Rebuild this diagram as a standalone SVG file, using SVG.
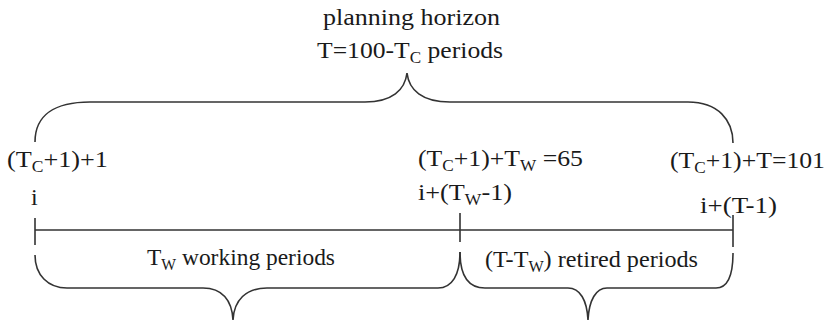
<svg xmlns="http://www.w3.org/2000/svg" width="828" height="320" viewBox="0 0 828 320">
<style>
.ln{fill:none;stroke:#333;stroke-width:1.6;stroke-linecap:butt}
.t{font-family:"Liberation Serif","Times New Roman",serif;font-size:24px;fill:#1a1a1a}
.s{font-size:16px}
</style>
<rect width="828" height="320" fill="#fff"/>
<g id="labels">
<text class="t" x="323" y="25" textLength="177" lengthAdjust="spacingAndGlyphs">planning horizon</text>
<text class="t" x="317" y="58" textLength="186" lengthAdjust="spacingAndGlyphs">T=100-T<tspan class="s" dy="5">C</tspan><tspan dy="-5"> periods</tspan></text>
<text class="t" x="7" y="167" textLength="101" lengthAdjust="spacingAndGlyphs">(T<tspan class="s" dy="5">C</tspan><tspan dy="-5">+1)+1</tspan></text>
<text class="t" x="31" y="205">i</text>
<text class="t" x="418" y="166" textLength="165" lengthAdjust="spacingAndGlyphs">(T<tspan class="s" dy="5">C</tspan><tspan dy="-5">+1)+T</tspan><tspan class="s" dy="5">W</tspan><tspan dy="-5"> =65</tspan></text>
<text class="t" x="418" y="200" textLength="94" lengthAdjust="spacingAndGlyphs">i+(T<tspan class="s" dy="5">W</tspan><tspan dy="-5">-1)</tspan></text>
<text class="t" x="670" y="168" textLength="155" lengthAdjust="spacingAndGlyphs">(T<tspan class="s" dy="5">C</tspan><tspan dy="-5">+1)+T=101</tspan></text>
<text class="t" x="700" y="213" textLength="77" lengthAdjust="spacingAndGlyphs">i+(T-1)</text>
<text class="t" x="147" y="265" textLength="188" lengthAdjust="spacingAndGlyphs">T<tspan class="s" dy="5">W</tspan><tspan dy="-5"> working periods</tspan></text>
<text class="t" x="485" y="267" textLength="213" lengthAdjust="spacingAndGlyphs">(T-T<tspan class="s" dy="5">W</tspan><tspan dy="-5">) retired periods</tspan></text>
</g>
<g id="connectors">
<path id="brace-top" class="ln" d="M35,142 C35,115 55,102 90,102 L365,102 C392,102 405,90 407,73 C409,90 422,102 450,102 L688,102 C718,102 733,120 733,143"/>
<path id="timeline" class="ln" d="M35,230 L733,230 M35,218 L35,245 M460,213 L460,242 M733,215 L733,247"/>
<path id="brace-working" class="ln" d="M35,255 C35,275 48,288 67,288 L203,288 C222,288 232,300 233,320 C234,300 246,288 267,288 L438,288 C452,288 460,275 460,252"/>
<path id="brace-retired" class="ln" d="M460,252 C460,275 468,288 485,288 L568,288 C580,288 587,300 588,320 C589,300 596,288 607,288 L716,288 C728,288 733,275 733,253"/>
</g>
</svg>
